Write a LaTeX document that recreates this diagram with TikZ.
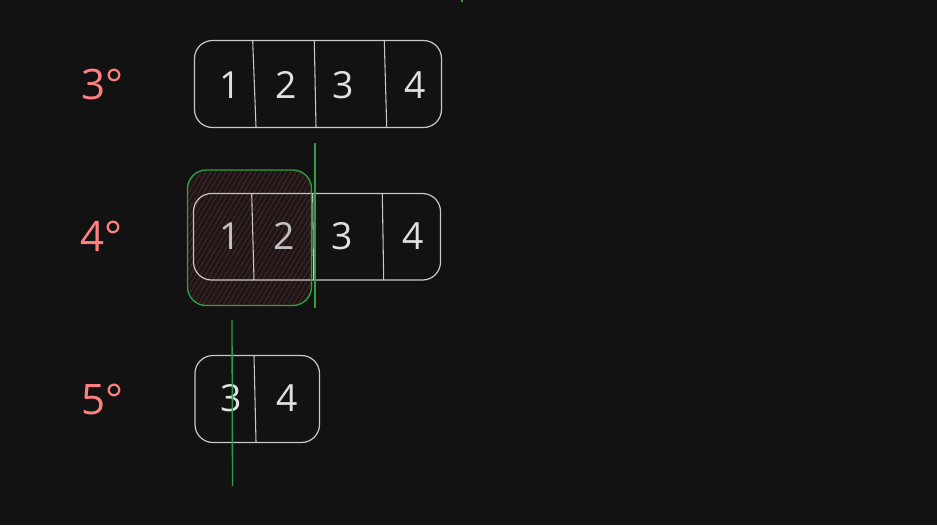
\documentclass[tikz,border=0pt]{standalone}
\usepackage{fontspec}
\setmainfont{Open Sans}
\definecolor{bg}{HTML}{121212}
\definecolor{boxline}{HTML}{C8C8C8}
\definecolor{digit}{HTML}{E0E0E0}
\definecolor{salmon}{HTML}{FF8080}
\definecolor{mark}{HTML}{2F9E44}
\definecolor{hatchline}{HTML}{3E2424}
\definecolor{redfill}{HTML}{1E1616}

\begin{document}
\begin{tikzpicture}[x=0.75pt, y=-0.75pt,
    cell/.style={color=digit, font=\fontsize{28}{30}\selectfont, inner sep=0pt, anchor=base},
    stage/.style={color=salmon, font=\fontsize{31.5}{34}\selectfont, inner sep=0pt, anchor=base},
    frame/.style={draw=boxline, line width=0.9pt, rounded corners=13.5pt},
    divider/.style={draw=boxline, line width=0.8pt},
    cut/.style={draw=mark, line width=1pt}]%{{{

    \fill [bg] (0,0) rectangle (937,525);
    \useasboundingbox (0,0) rectangle (937,525);

    % 3
    \node (s3) [stage] at (102,99.5) {3°};
    \draw [frame] (194.5,40.5) rectangle (441.5,127.5);
    \draw [divider] (252.7,41) -- (256,127);
    \draw [divider] (314.3,41) -- (316,127);
    \draw [divider] (384.3,41) -- (386.7,127);
    \node (a1) [cell] at (230,98) {1};
    \node (a2) [cell] at (286,98) {2};
    \node (a3) [cell] at (343,98) {3};
    \node (a4) [cell] at (415,98) {4};

    % 4
    \begin{scope}
      \clip [rounded corners=14pt] (187.5,170) rectangle (311.5,305.5);
      \fill [redfill] (187.5,170) rectangle (311.5,305.5);
      \foreach \x in {90,95,...,320}
        \draw [hatchline, line width=0.9pt] (\x,310) -- (\x+85,165);
    \end{scope}
    \node (s4) [stage] at (101,251.5) {4°};
    \draw [frame] (193.5,193.5) rectangle (440.5,280);
    \draw [divider] (251.7,194) -- (254,280);
    \draw [divider] (312.7,194) -- (313.5,280);
    \draw [divider] (382.3,194) -- (383.7,280);
    \node (b1) [cell, color=digit!85!redfill] at (230,249.5) {1};
    \node (b2) [cell, color=digit!85!redfill] at (284.5,249.5) {2};
    \node (b3) [cell] at (341.7,249.5) {3};
    \node (b4) [cell] at (413,249.5) {4};
    \draw [cut, rounded corners=14pt] (187.5,170) rectangle (311.5,305.5);
    \draw [cut] (315,143) -- (315,308);

    % 5
    \node (s5) [stage] at (102,414) {5°};
    \draw [frame] (195,355.5) rectangle (319.5,442.5);
    \draw [divider] (254,356) -- (256,442);
    \node (c3) [cell] at (231,411) {3};
    \node (c4) [cell] at (287,411) {4};
    \draw [cut] (232,320) -- (232.5,486);

    \draw [cut] (462,0) -- (462,2);
  \end{tikzpicture}
\end{document}
